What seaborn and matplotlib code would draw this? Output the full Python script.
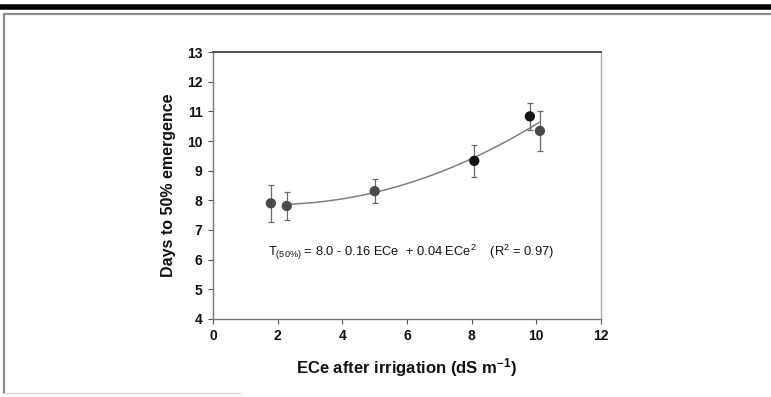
import numpy as np
import pandas as pd
import matplotlib
matplotlib.use("Agg")
import matplotlib.pyplot as plt
from matplotlib.lines import Line2D
import seaborn as sns

# ---- data ----
ece = [1.79, 2.28, 5.0, 8.08, 9.80, 10.11]
days = [7.9, 7.81, 8.31, 9.33, 10.83, 10.34]
err = [0.63, 0.46, 0.41, 0.55, 0.46, 0.67]
shade = ["gray", "gray", "gray", "black", "black", "gray"]
x_ticks = [0, 2, 4, 6, 8, 10, 12]
y_ticks = [4, 5, 6, 7, 8, 9, 10, 11, 12, 13]

sns.set_theme(style="white")
plt.rcParams["font.family"] = ["Liberation Sans", "DejaVu Sans"]
plt.rcParams["mathtext.default"] = "regular"

df = pd.DataFrame({"ece": ece, "days": days, "err": err, "shade": shade})

fig = plt.figure(figsize=(7.71, 3.97), dpi=100)
ax = fig.add_axes([0.2763, 0.1965, 0.5032, 0.6725])

# quadratic fit through the data (library fit)
coef = np.polyfit(df["ece"], df["days"], 2)
xs = np.linspace(df["ece"].iloc[1], df["ece"].iloc[-1], 100)
fit = pd.DataFrame({"x": xs, "y": np.polyval(coef, xs)})
sns.lineplot(data=fit, x="x", y="y", ax=ax, color="#808080", lw=1.1, zorder=2)

ax.errorbar(df["ece"], df["days"], yerr=df["err"], fmt="none",
            ecolor="#6a6a6a", elinewidth=0.9, capsize=2.5, capthick=0.9, zorder=3)
sns.scatterplot(data=df, x="ece", y="days", hue="shade",
                palette={"gray": "#4a4a4a", "black": "#151515"},
                s=55, edgecolor="none", legend=False, ax=ax, zorder=4)

ax.set_xlim(0, 12)
ax.set_ylim(4, 13)
ax.set_xticks(x_ticks)
ax.set_yticks(y_ticks)
ax.tick_params(axis="both", direction="out", length=3.5, width=0.8,
               color="#555555", labelsize=10, pad=4, labelcolor="#111111",
               bottom=True, left=True)
for lbl in ax.get_xticklabels() + ax.get_yticklabels():
    lbl.set_fontweight("bold")

for side, sp in ax.spines.items():
    sp.set_visible(True)
    sp.set_linewidth(1.0)
    sp.set_color("#777777")
ax.spines["top"].set_color("#444444")
ax.spines["top"].set_linewidth(1.3)
ax.spines["right"].set_color("#aaaaaa")

ax.set_xlabel("ECe after irrigation (dS m$^{-1}$)", fontsize=12, color="#111111",
              fontweight="bold", labelpad=9)
ax.set_ylabel("Days to 50% emergence", fontsize=11.5, color="#111111",
              fontweight="bold", labelpad=8)

ax.text(6.12, 6.26,
        r"T$_{(50\%)}$ = 8.0 - 0.16 ECe  + 0.04 ECe$^{2}$    (R$^{2}$ = 0.97)",
        ha="center", va="center", fontsize=9.3, color="#111111")

# page decorations: thick black rule at top, gray frame
fig.add_artist(Line2D([0, 1], [1 - 6.5 / 397, 1 - 6.5 / 397],
                      transform=fig.transFigure, color="black", lw=4.0))
fig.add_artist(Line2D([3.5 / 771, 3.5 / 771, 1.0], [1 - 393 / 397, 1 - 14 / 397, 1 - 14 / 397],
                      transform=fig.transFigure, color="#8a8a8a", lw=1.6))
fig.add_artist(Line2D([3.5 / 771, 240 / 771], [1 - 393 / 397, 1 - 393 / 397],
                      transform=fig.transFigure, color="#d8d8d8", lw=1.0))

fig.savefig("out.png", dpi=100, facecolor="white")
